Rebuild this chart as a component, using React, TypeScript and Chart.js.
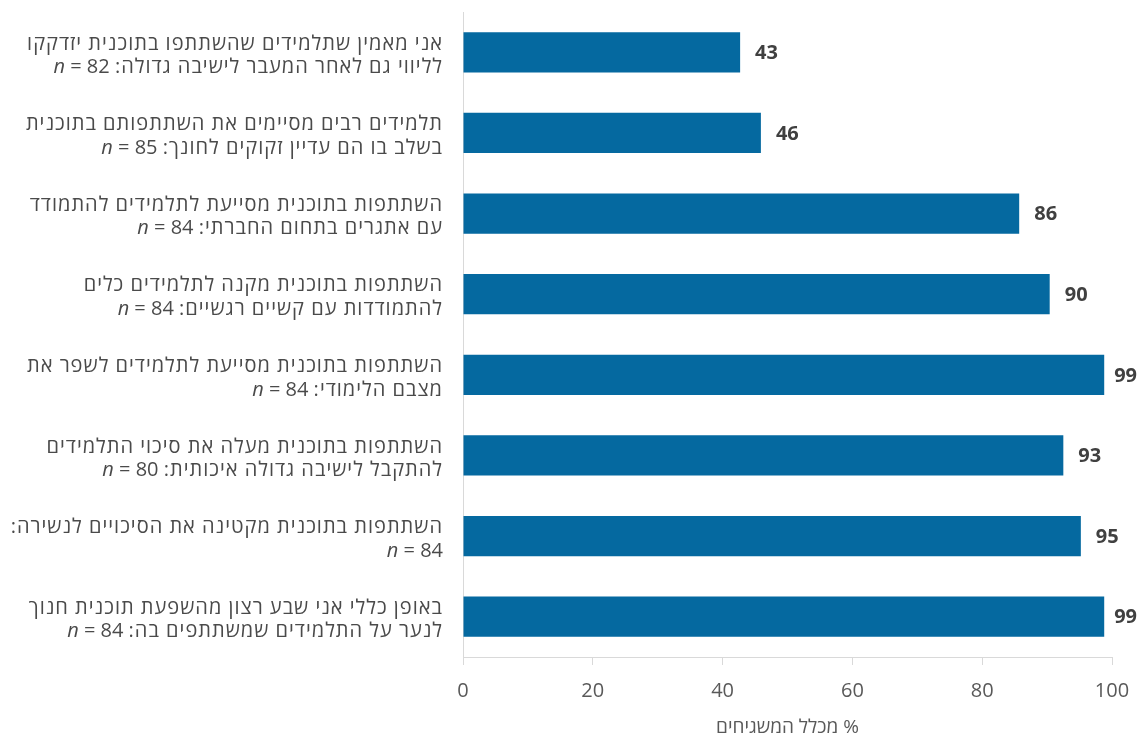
import { useEffect, useRef } from "react";
import { Chart, registerables } from "chart.js";

Chart.register(...registerables);

// ---- Data ----
const lineOne = [
  "אני מאמין שתלמידים שהשתתפו בתוכנית יזדקקו",
  "תלמידים רבים מסיימים את השתתפותם בתוכנית",
  "השתתפות בתוכנית מסייעת לתלמידים להתמודד",
  "השתתפות בתוכנית מקנה לתלמידים כלים",
  "השתתפות בתוכנית מסייעת לתלמידים לשפר את",
  "השתתפות בתוכנית מעלה את סיכוי התלמידים",
  "השתתפות בתוכנית מקטינה את הסיכויים לנשירה:",
  "באופן כללי אני שבע רצון מהשפעת תוכנית חנוך",
];
const lineTwo = [
  "לליווי גם לאחר המעבר לישיבה גדולה:",
  "בשלב בו הם עדיין זקוקים לחונך:",
  "עם אתגרים בתחום החברתי:",
  "להתמודדות עם קשיים רגשיים:",
  "מצבם הלימודי:",
  "להתקבל לישיבה גדולה איכותית:",
  "",
  "לנער על התלמידים שמשתתפים בה:",
];
const sampleSizes = [82, 85, 84, 84, 84, 80, 84, 84];
const values = [42.7, 45.9, 85.7, 90.4, 98.8, 92.5, 95.2, 98.8];
const xTicks = [0, 20, 40, 60, 80, 100];
const xTitle = "% מכלל המשגיחים";

const FONT = '"Open Sans", "DejaVu Sans", sans-serif';
const BAR_COLOR = "#0569a0";
const AXIS_COLOR = "#d9d9d9";
const LABEL_COLOR = "#4a4a4a";
const TICK_COLOR = "#595959";
const VALUE_COLOR = "#404040";

const labelPlugin = {
  id: "hebrewLabels",
  afterDatasetsDraw(chart: any) {
    const ctx: any = chart.ctx;
    const yScale = chart.scales.y;
    const xScale = chart.scales.x;
    const meta = chart.getDatasetMeta(0);
    const xr = chart.chartArea.left - 20;
    ctx.save();
    ctx.textBaseline = "middle";
    values.forEach((v, i) => {
      const c = yScale.getPixelForValue(i);
      const y1 = c - 8.5;
      const y2 = c + 15;
      ctx.fillStyle = LABEL_COLOR;
      ctx.font = `20px ${FONT}`;
      ctx.letterSpacing = "1px";
      ctx.textAlign = "right";
      ctx.direction = "rtl";
      ctx.fillText(lineOne[i], xr, y1);
      let w = 0;
      const heb = lineTwo[i];
      if (heb) {
        ctx.fillText(heb, xr, y2);
        w = ctx.measureText(heb).width;
      }
      ctx.direction = "ltr";
      ctx.letterSpacing = "0px";
      const seg = heb ? `= ${sampleSizes[i]} ` : `= ${sampleSizes[i]}`;
      ctx.fillText(seg, xr - w, y2);
      const w2 = ctx.measureText(seg).width;
      ctx.font = `italic 20px ${FONT}`;
      ctx.fillText("n ", xr - w - w2, y2);

      // value label (kept inside the canvas, as in the original)
      const bar = meta.data[i];
      ctx.font = `bold 20px ${FONT}`;
      ctx.fillStyle = VALUE_COLOR;
      ctx.textAlign = "left";
      const txt = String(Math.round(v));
      const tw = ctx.measureText(txt).width;
      const lx = Math.min(bar.x + 15, chart.width - 3 - tw);
      ctx.fillText(txt, lx, c + 1);
    });

    // axis title, right-to-left
    ctx.font = `19px ${FONT}`;
    ctx.fillStyle = TICK_COLOR;
    ctx.letterSpacing = "0px";
    ctx.direction = "rtl";
    ctx.textAlign = "center";
    const cx = (chart.chartArea.left + chart.chartArea.right) / 2;
    ctx.fillText(xTitle, cx, xScale.bottom - 10.5);
    ctx.restore();
  },
};

export default function App() {
  const canvasRef = useRef<HTMLCanvasElement | null>(null);

  useEffect(() => {
    const canvas = canvasRef.current;
    if (!canvas) return;
    const chart = new Chart(canvas, {
      type: "bar",
      data: {
        labels: lineOne,
        datasets: [
          {
            data: values,
            backgroundColor: BAR_COLOR,
            borderWidth: 0,
            barPercentage: 0.5,
            categoryPercentage: 1.0,
          },
        ],
      },
      options: {
        indexAxis: "y",
        animation: false,
        responsive: false,
        maintainAspectRatio: false,
        layout: { padding: { left: 455, right: 28, top: 12, bottom: 0 } },
        plugins: {
          legend: { display: false },
          tooltip: { enabled: false },
        },
        scales: {
          x: {
            min: 0,
            max: 100,
            afterBuildTicks: (scale: any) => {
              scale.ticks = xTicks.map((v) => ({ value: v }));
            },
            afterFit: (scale: any) => {
              scale.paddingRight = 0;
              scale.paddingLeft = 0;
            },
            grid: {
              display: true,
              drawOnChartArea: false,
              drawTicks: true,
              tickLength: 8,
              color: AXIS_COLOR,
              lineWidth: 1,
            },
            border: { display: true, color: AXIS_COLOR, width: 1 },
            ticks: {
              color: TICK_COLOR,
              padding: 16,
              font: { family: FONT, size: 20, lineHeight: 1 },
            },
            title: {
              display: true,
              text: " ",
              color: TICK_COLOR,
              font: { family: FONT, size: 19, lineHeight: 1 },
              padding: { top: 2, bottom: 0 },
            },
          },
          y: {
            grid: { display: false },
            border: { display: true, color: AXIS_COLOR, width: 1 },
            ticks: { display: false },
          },
        },
      },
      plugins: [labelPlugin],
    } as any);
    return () => chart.destroy();
  }, []);

  return (
    <div style={{ position: "absolute", left: 0, top: 0, width: 1140, height: 738, background: "#fff" }}>
      <canvas ref={canvasRef} width={1140} height={738} />
    </div>
  );
}
